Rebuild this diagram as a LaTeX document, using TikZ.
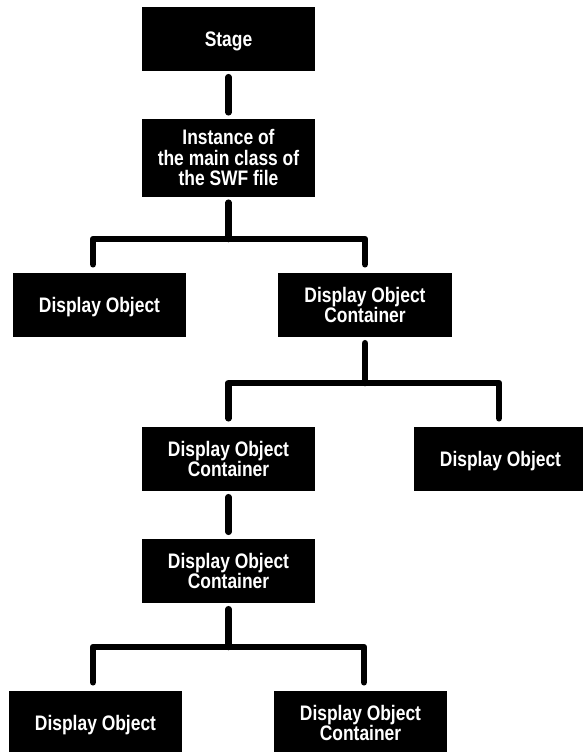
\documentclass[tikz,border=0pt]{standalone}
\usepackage{fontspec}
\newfontfamily\cf{Liberation Sans}[FakeStretch=0.83]
\begin{document}
\begin{tikzpicture}[x=1pt,y=-1pt,
  box/.style={rectangle, fill=black, text=white, inner sep=0pt,
    minimum width=173pt, minimum height=64pt,
    font={\cf\bfseries\fontsize{21}{20.5}\selectfont}},
  one/.style={text height=15pt, text depth=0pt},
  multi/.style={align=center},
  conn/.style={draw=black, line width=6.5pt, line cap=round, line join=round}]
\useasboundingbox (0,0) rectangle (583,752);
% nodes
\node[box,one] (stage) at (228.5,39) {Stage};
\node[box,multi,minimum height=78pt] (inst) at (228.5,157.5) {Instance of\\the main class of\\the SWF file};
\node[box,one] (do1) at (99.5,305) {Display Object};
\node[box,multi,minimum width=174pt] (doc1) at (365,305) {Display Object\\Container};
\node[box,multi] (doc2) at (228.5,459) {Display Object\\Container};
\node[box,one] (do2) at (500.5,459) {Display Object};
\node[box,multi] (doc3) at (228.5,571) {Display Object\\Container};
\node[box,one] (do3) at (95.5,723) {Display Object};
\node[box,multi] (doc4) at (360.5,723) {Display Object\\Container};
% bar coordinates
\coordinate (b1) at (228.5,239);
\coordinate (b2) at (365,383);
\coordinate (b3) at (228.5,647);
% connectors
\draw[conn] ([yshift=-6pt]stage.south) -- ([yshift=6pt]inst.north);
\draw[conn] ([yshift=-6pt]inst.south) -- (b1);
\draw[conn] ([xshift=-6.5pt,yshift=8.5pt]do1.north) |- (b1) -| ([yshift=8.5pt]doc1.north);
\draw[conn] ([yshift=-6pt]doc1.south) -- (b2);
\draw[conn] ([yshift=8.5pt]doc2.north) |- (b2) -| ([xshift=-1.5pt,yshift=8.5pt]do2.north);
\draw[conn] ([yshift=-6pt]doc2.south) -- ([yshift=7pt]doc3.north);
\draw[conn] ([yshift=-6pt]doc3.south) -- (b3);
\draw[conn] ([xshift=-2.5pt,yshift=8.5pt]do3.north) |- (b3) -| ([xshift=3.5pt,yshift=8.5pt]doc4.north);
\end{tikzpicture}
\end{document}
